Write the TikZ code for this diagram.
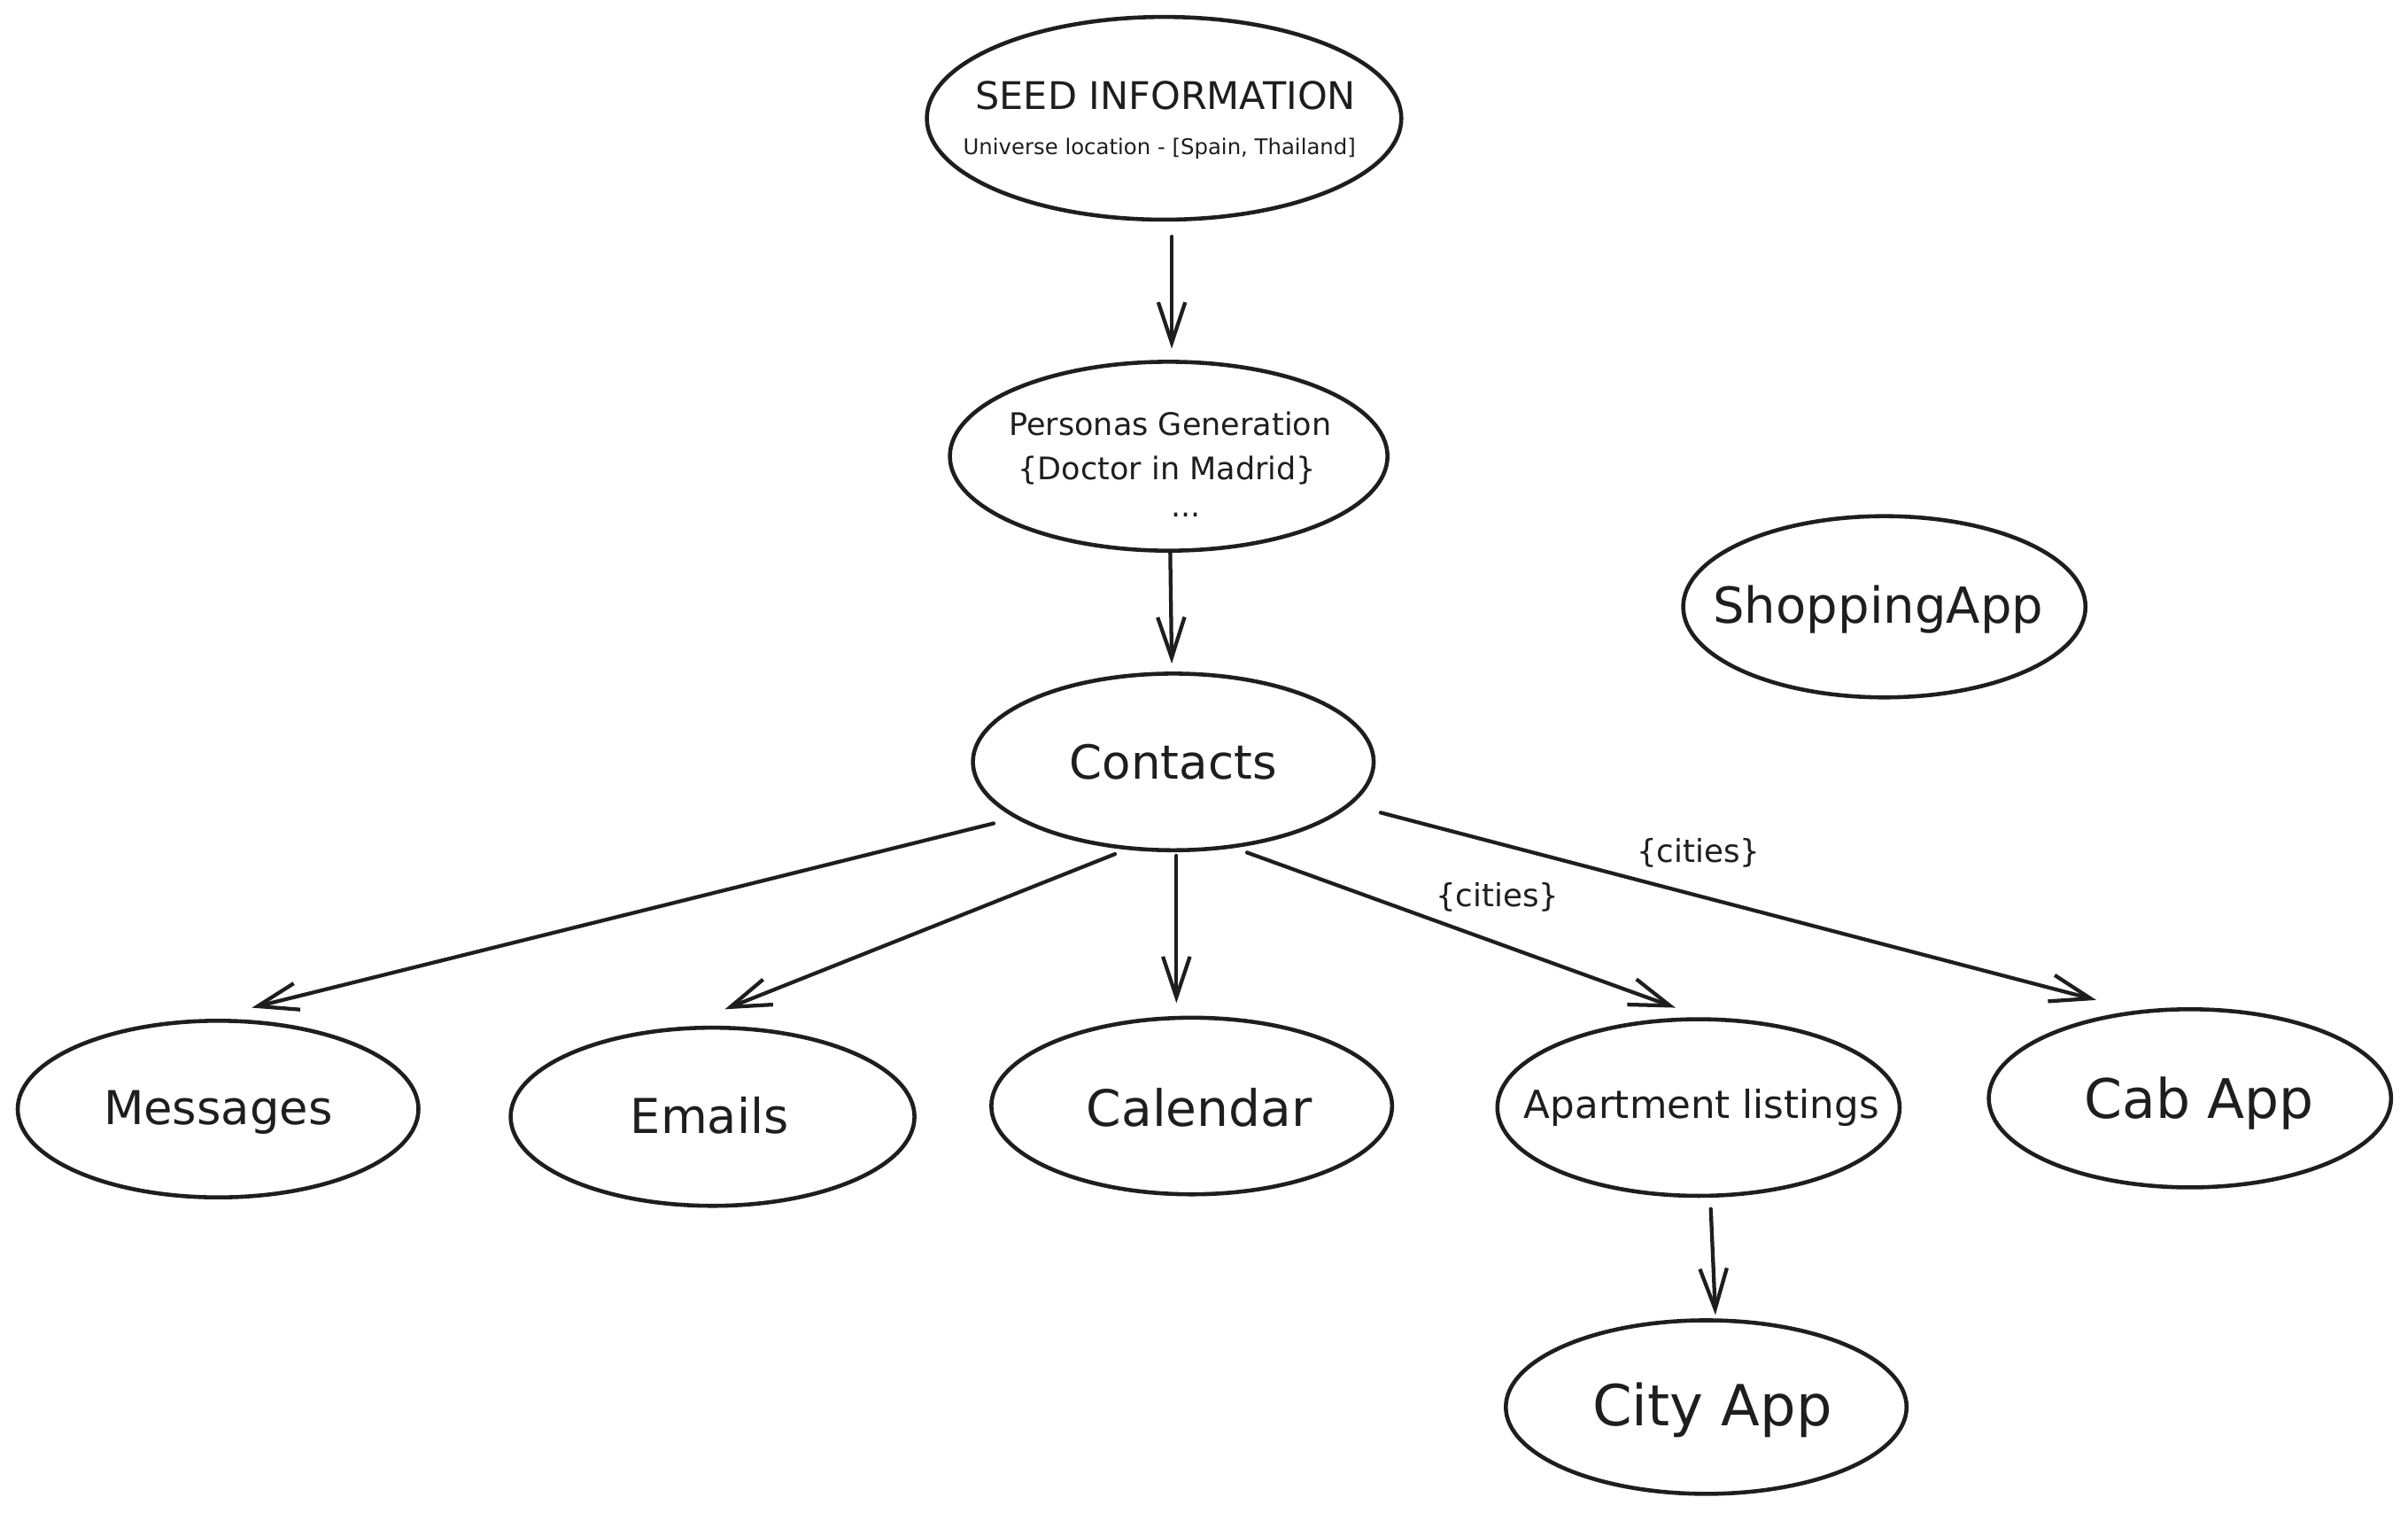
\documentclass[tikz,border=0pt]{standalone}
\usepackage{fontspec}
\setmainfont{DejaVu Sans}
\usetikzlibrary{shapes.geometric,arrows.meta,calc}
\definecolor{ink}{HTML}{1E1E1E}
\newcommand\fsz[1]{\fontsize{#1pt}{#1pt}\selectfont}
\begin{document}
\begin{tikzpicture}[x=0.02cm,y=-0.02cm,
  oval/.style={ellipse,draw=ink,line width=1.5pt,inner sep=0pt,
    minimum width=5.22cm,minimum height=2.3cm},
  arr/.style={draw=ink,line width=1.4pt,line cap=round,
    -{Straight Barb[length=15pt,width=10pt,line width=1.4pt]}},
  lab/.style={text=ink,inner sep=0pt}]
\fill[white] (0,0) rectangle (1568,984.4);
\useasboundingbox (0,0) rectangle (1568,984.4);

% top nodes
\node[oval,minimum width=6.18cm,minimum height=2.64cm] (seed) at (758,77) {};
\node[lab] (seedt) at (759,62) {\fsz{14.1}SEED INFORMATION};
\node[lab] (seedu) at (755,97) {\fsz{8}Universe location - [Spain, Thailand]};

\node[oval,minimum width=5.7cm,minimum height=2.46cm] (personas) at (761,297) {};
\node[lab] (pers1) at (762,276) {\fsz{11.5}Personas Generation};
\node[lab] (pers2) at (760,306) {\fsz{11.5}\{Doctor in Madrid\}};
\node[lab] (pers3) at (772,335) {\fsz{11.5}...};

\node[oval,minimum width=5.22cm,minimum height=2.3cm] (contacts) at (764,496) {};
\node[lab] (contactst) at (764,496) {\fsz{17.4}Contacts};
\node[oval,minimum width=5.24cm,minimum height=2.36cm] (shop) at (1227,395) {};
\node[lab] (shopt) at (1223,397) {\fsz{18.4}ShoppingApp};

% bottom row
\node[oval,minimum width=5.22cm,minimum height=2.3cm] (messages) at (142,722) {};
\node[lab] (messagest) at (142,724) {\fsz{17.3}Messages};
\node[oval,minimum width=5.26cm,minimum height=2.32cm] (emails) at (464,727) {};
\node[lab] (emailst) at (462,726) {\fsz{17.8}Emails};
\node[oval,minimum width=5.22cm,minimum height=2.3cm] (calendar) at (776,720) {};
\node[lab] (calendart) at (781,721) {\fsz{18.6}Calendar};
\node[oval,minimum width=5.24cm,minimum height=2.3cm] (apt) at (1106,721) {};
\node[lab] (aptt) at (1108,721) {\fsz{14.3}Apartment listings};
\node[oval,minimum width=5.24cm,minimum height=2.32cm] (cab) at (1426,715) {};
\node[lab] (cabt) at (1432,718) {\fsz{20.2}Cab App};
\node[oval,minimum width=5.22cm,minimum height=2.26cm] (city) at (1111,916) {};
\node[lab] (cityt) at (1115,918) {\fsz{21}City App};

% labels
\node[lab] (lc1) at (1106,555) {\fsz{11.7}\{cities\}};
\node[lab] (lc2) at (975,584) {\fsz{11.7}\{cities\}};

% arrows
\draw[arr] ($(seed)+(5,77)$) -- ($(personas)+(2,-70)$);
\draw[arr] ($(personas)+(1,63)$) -- ($(contacts)+(-1,-64)$);
\draw[arr] ($(contacts)+(-117,40)$) -- ($(messages)+(22,-66)$);
\draw[arr] ($(contacts)+(-38,60)$) -- ($(emails)+(8,-70)$);
\draw[arr] ($(contacts)+(2,61)$) -- ($(calendar)+(-10,-67)$);
\draw[arr] ($(contacts)+(48,59)$) -- ($(apt)+(-15,-65)$);
\draw[arr] ($(contacts)+(135,33)$) -- ($(cab)+(-61,-64)$);
\draw[arr] ($(apt)+(8,66)$) -- ($(city)+(6,-60)$);
\end{tikzpicture}
\end{document}
